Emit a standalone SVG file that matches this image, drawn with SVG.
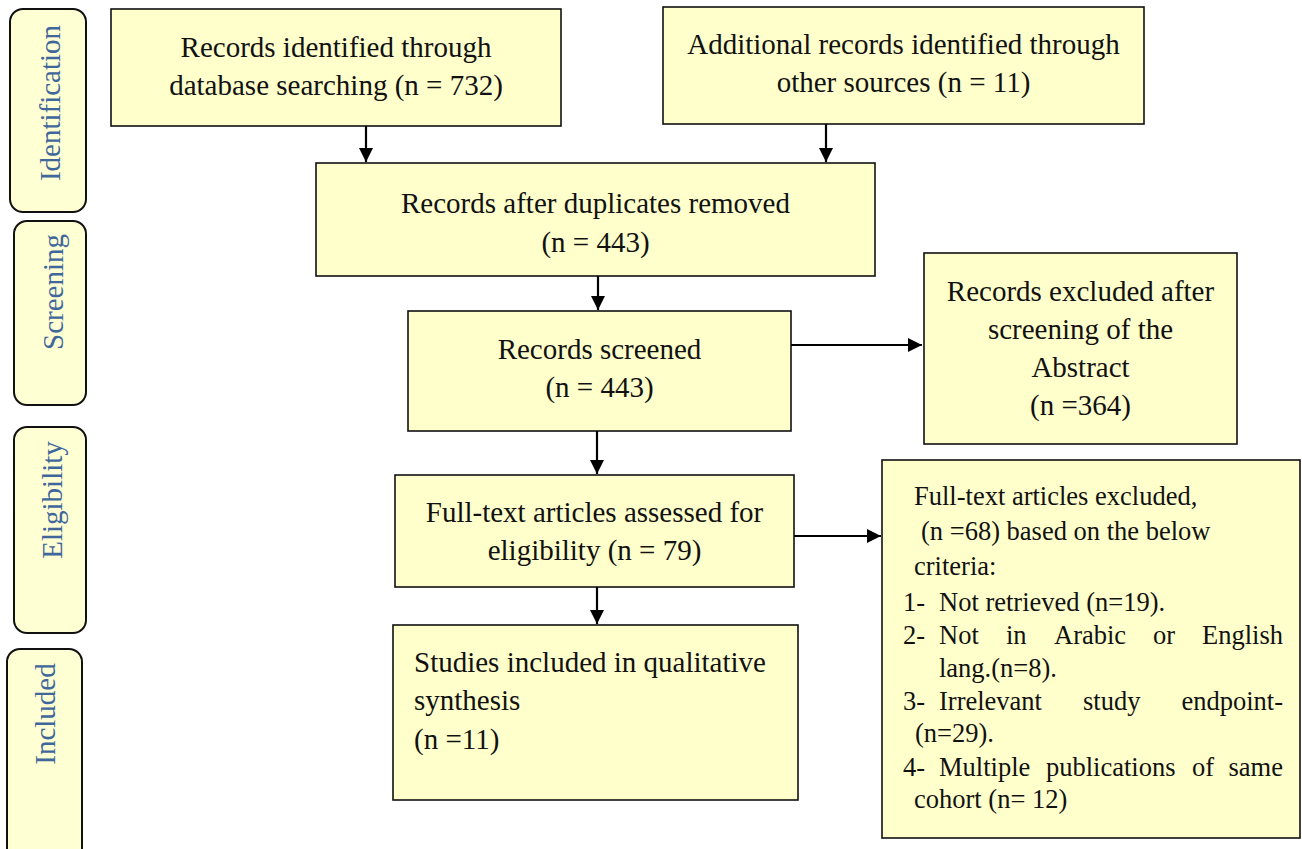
<svg xmlns="http://www.w3.org/2000/svg" width="1302" height="849" viewBox="0 0 1302 849">
<style>
.box{fill:#FFFFCC;stroke:#111;stroke-width:1.6}
.lab{fill:#FFFFD4;stroke:#111;stroke-width:2}
.t{font-family:"Liberation Serif","Times New Roman",serif;font-size:29px;fill:#111}
.c{text-anchor:middle}
.s{font-family:"Liberation Serif","Times New Roman",serif;font-size:26.5px;fill:#111}
.e{text-anchor:end}
.lt{font-family:"Liberation Serif","Times New Roman",serif;font-size:29px;fill:#3F679B;text-anchor:middle}
.conn{stroke:#000;stroke-width:2.2;fill:none;marker-end:url(#ah)}
</style>
<defs>
<marker id="ah" markerUnits="userSpaceOnUse" markerWidth="14" markerHeight="14" refX="14" refY="7" orient="auto">
<path d="M0,0 L14,7 L0,14 z" fill="#000"/>
</marker>
</defs>
<rect width="1302" height="849" fill="#fff"/>

<g id="label-identification">
<rect class="lab" x="10" y="9" width="76" height="203" rx="13"/>
<text class="lt" transform="translate(60,103) rotate(-90)">Identification</text>
</g>
<g id="label-screening">
<rect class="lab" x="14" y="221" width="72" height="184" rx="13"/>
<text class="lt" transform="translate(63,292) rotate(-90)">Screening</text>
</g>
<g id="label-eligibility">
<rect class="lab" x="14" y="427" width="72" height="206" rx="13"/>
<text class="lt" transform="translate(62,500) rotate(-90)">Eligibility</text>
</g>
<g id="label-included">
<rect class="lab" x="7" y="649" width="75" height="212" rx="13"/>
<text class="lt" transform="translate(55,714) rotate(-90)">Included</text>
</g>

<g id="n-database">
<rect class="box" x="111" y="9" width="450" height="117"/>
<text class="t c" x="336" y="57">Records identified through</text>
<text class="t c" x="336" y="95">database searching (n = 732)</text>
</g>
<g id="n-other">
<rect class="box" x="663" y="7" width="481" height="117"/>
<text class="t c" x="903.5" y="54">Additional records identified through</text>
<text class="t c" x="903.5" y="92">other sources (n = 11)</text>
</g>
<g id="n-duplicates">
<rect class="box" x="316" y="163" width="559" height="113"/>
<text class="t c" x="595.5" y="213">Records after duplicates removed</text>
<text class="t c" x="595.5" y="252">(n = 443)</text>
</g>
<g id="n-screened">
<rect class="box" x="408" y="311" width="383" height="120"/>
<text class="t c" x="599.5" y="359">Records screened</text>
<text class="t c" x="599.5" y="397">(n = 443)</text>
</g>
<g id="n-excluded-abstract">
<rect class="box" x="924" y="253" width="313" height="191"/>
<text class="t c" x="1080.5" y="301">Records excluded after</text>
<text class="t c" x="1080.5" y="339">screening of the</text>
<text class="t c" x="1080.5" y="377">Abstract</text>
<text class="t c" x="1080.5" y="415">(n =364)</text>
</g>
<g id="n-fulltext">
<rect class="box" x="395" y="475" width="399" height="112"/>
<text class="t c" x="594.5" y="522">Full-text articles assessed for</text>
<text class="t c" x="594.5" y="560">eligibility (n = 79)</text>
</g>
<g id="n-included">
<rect class="box" x="393" y="625" width="405" height="175"/>
<text class="t" x="414" y="672">Studies included in qualitative</text>
<text class="t" x="414" y="710">synthesis</text>
<text class="t" x="414" y="749">(n =11)</text>
</g>
<g id="n-excluded-fulltext">
<rect class="box" x="882" y="460" width="418" height="378"/>
<text class="s" x="914" y="505">Full-text articles excluded,</text>
<text class="s" x="921" y="540">(n =68) based on the below</text>
<text class="s" x="914" y="575">criteria:</text>
<text class="s" x="903" y="611">1-</text>
<text class="s" x="939" y="611">Not retrieved (n=19).</text>
<text class="s" x="903" y="644">2-</text>
<text class="s" x="939" y="644">Not</text>
<text class="s" x="1006" y="644">in</text>
<text class="s" x="1054" y="644">Arabic</text>
<text class="s" x="1153" y="644">or</text>
<text class="s e" x="1283" y="644">English</text>
<text class="s" x="939" y="677">lang.(n=8).</text>
<text class="s" x="903" y="710">3-</text>
<text class="s" x="939" y="710">Irrelevant</text>
<text class="s" x="1083" y="710">study</text>
<text class="s e" x="1283" y="710">endpoint-</text>
<text class="s" x="915" y="742">(n=29).</text>
<text class="s" x="903" y="776">4-</text>
<text class="s" x="939" y="776">Multiple</text>
<text class="s" x="1046" y="776">publications</text>
<text class="s" x="1192" y="776">of</text>
<text class="s e" x="1283" y="776">same</text>
<text class="s" x="914" y="808">cohort (n= 12)</text>
</g>

<g id="connectors">
<line class="conn" x1="366" y1="126" x2="366" y2="162"/>
<line class="conn" x1="826" y1="124" x2="826" y2="162"/>
<line class="conn" x1="598" y1="276" x2="598" y2="310"/>
<line class="conn" x1="791" y1="345" x2="922" y2="345"/>
<line class="conn" x1="597" y1="431" x2="597" y2="474"/>
<line class="conn" x1="794" y1="536" x2="881" y2="536"/>
<line class="conn" x1="597" y1="587" x2="597" y2="624"/>
</g>
</svg>
